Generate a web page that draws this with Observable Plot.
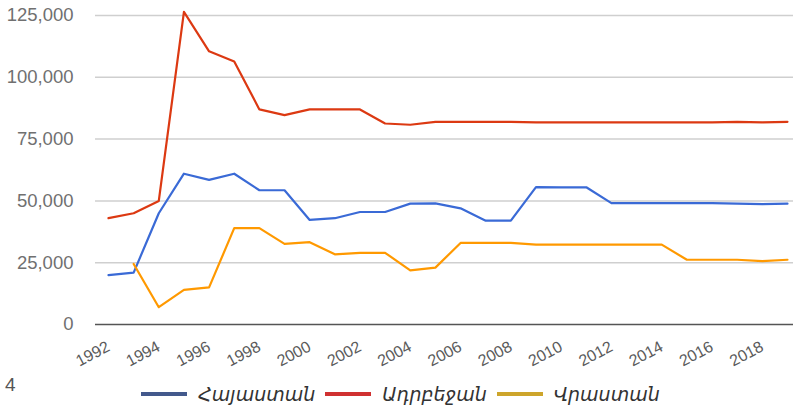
<!DOCTYPE html>
<html>
<head>
<meta charset="utf-8">
<script src="https://cdn.jsdelivr.net/npm/d3@7"></script>
<script src="https://cdn.jsdelivr.net/npm/@observablehq/plot@0.6"></script>
<style>
  html, body { margin: 0; padding: 0; background: #fff; }
  #wrap { position: relative; width: 793px; height: 412px; overflow: hidden; }
  #legend { position: absolute; left: 0; top: 383px; width: 793px; display: flex; justify-content: center; align-items: center;
            font-family: "DejaVu Sans", sans-serif; font-style: italic; font-size: 19px; color: #333; padding-left: 8px; box-sizing: border-box; }
  .item { display: flex; align-items: center; margin: 0 5px; }
  .sw { width: 46px; height: 3.5px; margin-right: 11px; }
  #fig { position: absolute; left: 5px; top: 374px; font-family: "Liberation Sans", Arial, sans-serif; font-size: 19px; color: #555; }
</style>
</head>
<body>
<div id="wrap">
  <div id="chart"></div>
  <div id="fig">4</div>
  <div id="legend"></div>
</div>
<script>
const years = d3.range(1992, 2020);
const seriesNames = ["Հայաստան", "Ադրբեջան", "Վրաստան"];
const lineColors = ["#3a6ad6", "#dc3912", "#ff9900"];
const swatchColors = ["#43598c", "#d03131", "#cda52b"];
const armenia = [20000, 21000, 45000, 61000, 58500, 61000, 54300, 54300, 42300, 43000, 45500, 45500,
  48900, 49000, 47000, 42000, 42000, 55600, 55500, 55500, 49100, 49100, 49100, 49100, 49100, 48900, 48700, 48900];
const azerbaijan = [43000, 45000, 50000, 126500, 110500, 106400, 87000, 84700, 87000, 87000, 87000, 81300,
  80800, 82000, 82000, 82000, 82000, 81800, 81800, 81800, 81800, 81800, 81800, 81800, 81800, 82000, 81800, 82000];
const georgia = [null, 24500, 7000, 14000, 15000, 39000, 39000, 32600, 33300, 28400, 29000, 29000,
  21900, 23000, 33000, 33000, 33000, 32300, 32300, 32300, 32300, 32300, 32300, 26200, 26200, 26200, 25600, 26200];
const xTicks = d3.range(1992, 2019, 2);
const yTicks = [0, 25000, 50000, 75000, 100000, 125000];

const allSeries = [armenia, azerbaijan, georgia];
const data = [];
allSeries.forEach((vals, i) => vals.forEach((v, j) => {
  if (v != null) data.push({series: seriesNames[i], year: years[j], value: v});
}));

const chart = Plot.plot({
  width: 793,
  height: 372,
  marginTop: 15,
  marginBottom: 48,
  marginLeft: 95,
  marginRight: 0,
  style: {fontFamily: "'Liberation Sans', Arial, sans-serif", background: "#fff"},
  x: {domain: [1991.483, 2019.24], ticks: xTicks, tickFormat: d => String(d), label: null},
  y: {domain: [0, 125000], ticks: yTicks, tickFormat: d3.format(","), label: null},
  color: {domain: seriesNames, range: lineColors},
  marks: [
    Plot.gridY(yTicks.filter(t => t > 0), {stroke: "#cfcfcf", strokeOpacity: 1, strokeWidth: 1.5}),
    Plot.axisY({ticks: yTicks, tickFormat: d3.format(","), tickSize: 0, tickPadding: 22, fontSize: 18.5, color: "#707070", label: null}),
    Plot.axisX({ticks: xTicks, tickFormat: d => String(d), tickSize: 0, tickPadding: 21, tickRotate: -28, fontSize: 16, color: "#5a5a5a", label: null}),
    Plot.ruleY([0], {stroke: "#555", strokeWidth: 1.5}),
    Plot.line(data, {x: "year", y: "value", z: "series", stroke: "series", strokeWidth: 2.2})
  ]
});
document.getElementById("chart").appendChild(chart);

const legend = document.getElementById("legend");
seriesNames.forEach((name, i) => {
  const item = document.createElement("div");
  item.className = "item";
  const sw = document.createElement("div");
  sw.className = "sw";
  sw.style.background = swatchColors[i];
  const t = document.createElement("span");
  t.textContent = name;
  item.appendChild(sw);
  item.appendChild(t);
  legend.appendChild(item);
});
</script>
</body>
</html>
